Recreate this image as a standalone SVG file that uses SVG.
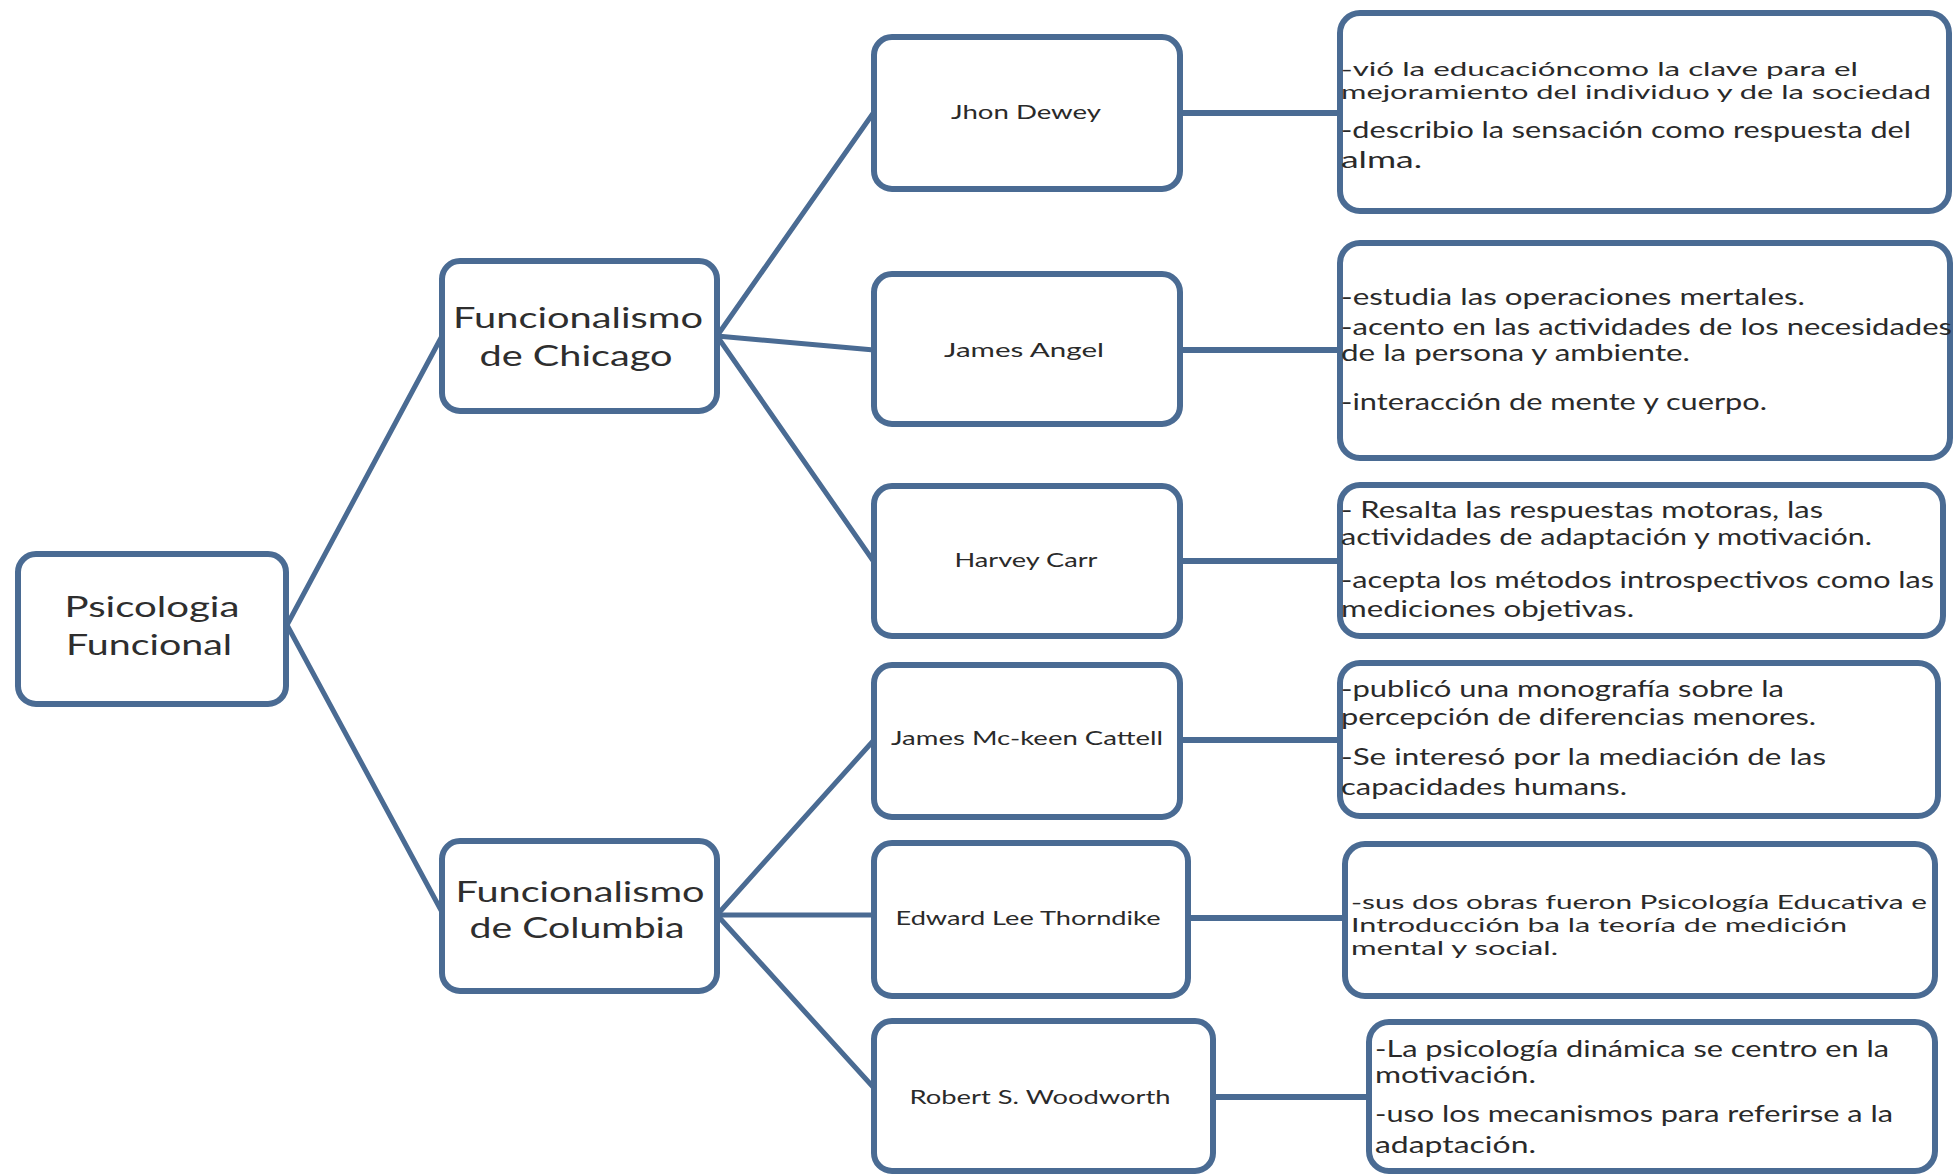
<svg xmlns="http://www.w3.org/2000/svg" width="1954" height="1175" viewBox="0 0 1954 1175">
<style>
.box{fill:#ffffff;stroke:#4a6b93;stroke-width:6}
.con{stroke:#4a6b93;stroke-width:5;fill:none;stroke-linecap:round}
.t1{font-family:Lato,"Open Sans","Liberation Sans",sans-serif;font-size:28px;fill:#2e2e2e;text-anchor:middle}
.t2{font-family:Lato,"Open Sans","Liberation Sans",sans-serif;font-size:20px;fill:#2a2a2a;text-anchor:middle}
.t3{font-family:Lato,"Open Sans","Liberation Sans",sans-serif;font-size:24px;fill:#2a2a2a}
.tight{font-size:19px}
</style>
<rect width="1954" height="1175" fill="#ffffff"/>
<g id="connectors">
<line class="con" x1="287" y1="625" x2="442" y2="336"/>
<line class="con" x1="287" y1="625" x2="442" y2="912"/>
<line class="con" x1="717" y1="336" x2="874" y2="112"/>
<line class="con" x1="717" y1="336" x2="874" y2="350"/>
<line class="con" x1="717" y1="336" x2="874" y2="562"/>
<line class="con" x1="717" y1="915" x2="874" y2="740"/>
<line class="con" x1="717" y1="915" x2="874" y2="915"/>
<line class="con" x1="717" y1="915" x2="874" y2="1088"/>
<line class="con" x1="1180" y1="113" x2="1340" y2="113" style="stroke-width:6"/>
<line class="con" x1="1180" y1="350" x2="1340" y2="350" style="stroke-width:6"/>
<line class="con" x1="1180" y1="561" x2="1340" y2="561" style="stroke-width:6"/>
<line class="con" x1="1180" y1="740" x2="1340" y2="740" style="stroke-width:6"/>
<line class="con" x1="1188" y1="918" x2="1345" y2="918" style="stroke-width:6"/>
<line class="con" x1="1213" y1="1097" x2="1369" y2="1097" style="stroke-width:6"/>
</g>
<g id="psicologia-funcional">
<rect class="box" x="18" y="554" width="268" height="150" rx="18"/>
<text class="t1" x="152" y="617" textLength="175" lengthAdjust="spacingAndGlyphs">Psicologia</text>
<text class="t1" x="149" y="655" textLength="166" lengthAdjust="spacingAndGlyphs">Funcional</text>
</g>
<g id="funcionalismo-chicago">
<rect class="box" x="442" y="261" width="275" height="150" rx="18"/>
<text class="t1" x="578" y="328" textLength="250" lengthAdjust="spacingAndGlyphs">Funcionalismo</text>
<text class="t1" x="576" y="366" textLength="193" lengthAdjust="spacingAndGlyphs">de Chicago</text>
</g>
<g id="funcionalismo-columbia">
<rect class="box" x="442" y="841" width="275" height="150" rx="18"/>
<text class="t1" x="580" y="902" textLength="249" lengthAdjust="spacingAndGlyphs">Funcionalismo</text>
<text class="t1" x="577" y="938" textLength="215" lengthAdjust="spacingAndGlyphs">de Columbia</text>
</g>
<g id="jhon-dewey">
<rect class="box" x="874" y="37" width="306" height="152" rx="18"/>
<text class="t2" x="1026" y="119" textLength="150" lengthAdjust="spacingAndGlyphs">Jhon Dewey</text>
</g>
<g id="james-angel">
<rect class="box" x="874" y="274" width="306" height="150" rx="18"/>
<text class="t2" x="1024" y="357" textLength="160" lengthAdjust="spacingAndGlyphs">James Angel</text>
</g>
<g id="harvey-carr">
<rect class="box" x="874" y="486" width="306" height="150" rx="18"/>
<text class="t2" x="1026" y="567" textLength="143" lengthAdjust="spacingAndGlyphs">Harvey Carr</text>
</g>
<g id="james-cattell">
<rect class="box" x="874" y="665" width="306" height="152" rx="18"/>
<text class="t2" x="1027" y="745" textLength="272" lengthAdjust="spacingAndGlyphs">James Mc-keen Cattell</text>
</g>
<g id="edward-thorndike">
<rect class="box" x="874" y="843" width="314" height="153" rx="18"/>
<text class="t2" x="1028" y="925" textLength="265" lengthAdjust="spacingAndGlyphs">Edward Lee Thorndike</text>
</g>
<g id="robert-woodworth">
<rect class="box" x="874" y="1021" width="339" height="150" rx="18"/>
<text class="t2" x="1040" y="1104" textLength="261" lengthAdjust="spacingAndGlyphs">Robert S. Woodworth</text>
</g>
<g id="desc-dewey">
<rect class="box" x="1340" y="13" width="609" height="198" rx="20"/>
<text class="t3 tight" x="1341" y="76" textLength="517" lengthAdjust="spacingAndGlyphs">-vió la educacióncomo la clave para el</text>
<text class="t3 tight" x="1341" y="99" textLength="590" lengthAdjust="spacingAndGlyphs">mejoramiento del individuo y de la sociedad</text>
<text class="t3" x="1341" y="138" textLength="570" lengthAdjust="spacingAndGlyphs">-describio la sensación como respuesta del</text>
<text class="t3" x="1341" y="168" textLength="81" lengthAdjust="spacingAndGlyphs">alma.</text>
</g>
<g id="desc-angel">
<rect class="box" x="1340" y="243" width="610" height="215" rx="20"/>
<text class="t3" x="1341" y="305" textLength="464" lengthAdjust="spacingAndGlyphs">-estudia las operaciones mertales.</text>
<text class="t3" x="1341" y="335" textLength="611" lengthAdjust="spacingAndGlyphs">-acento en las actividades de los necesidades</text>
<text class="t3" x="1341" y="361" textLength="349" lengthAdjust="spacingAndGlyphs">de la persona y ambiente.</text>
<text class="t3" x="1341" y="410" textLength="426" lengthAdjust="spacingAndGlyphs">-interacción de mente y cuerpo.</text>
</g>
<g id="desc-carr">
<rect class="box" x="1340" y="485" width="603" height="151" rx="20"/>
<text class="t3" x="1341" y="518" textLength="482" lengthAdjust="spacingAndGlyphs">- Resalta las respuestas motoras, las</text>
<text class="t3" x="1341" y="545" textLength="531" lengthAdjust="spacingAndGlyphs">actividades de adaptación y motivación.</text>
<text class="t3" x="1341" y="588" textLength="593" lengthAdjust="spacingAndGlyphs">-acepta los métodos introspectivos como las</text>
<text class="t3" x="1341" y="617" textLength="293" lengthAdjust="spacingAndGlyphs">mediciones objetivas.</text>
</g>
<g id="desc-cattell">
<rect class="box" x="1340" y="663" width="598" height="153" rx="20"/>
<text class="t3" x="1341" y="697" textLength="443" lengthAdjust="spacingAndGlyphs">-publicó una monografía sobre la</text>
<text class="t3" x="1341" y="725" textLength="475" lengthAdjust="spacingAndGlyphs">percepción de diferencias menores.</text>
<text class="t3" x="1341" y="765" textLength="485" lengthAdjust="spacingAndGlyphs">-Se interesó por la mediación de las</text>
<text class="t3" x="1341" y="795" textLength="286" lengthAdjust="spacingAndGlyphs">capacidades humans.</text>
</g>
<g id="desc-thorndike">
<rect class="box" x="1345" y="844" width="590" height="152" rx="20"/>
<text class="t3 tight" x="1351" y="909" textLength="576" lengthAdjust="spacingAndGlyphs">-sus dos obras fueron Psicología Educativa e</text>
<text class="t3 tight" x="1351" y="932" textLength="496" lengthAdjust="spacingAndGlyphs">Introducción ba la teoría de medición</text>
<text class="t3 tight" x="1351" y="955" textLength="207" lengthAdjust="spacingAndGlyphs">mental y social.</text>
</g>
<g id="desc-woodworth">
<rect class="box" x="1369" y="1022" width="566" height="149" rx="20"/>
<text class="t3" x="1375" y="1057" textLength="514" lengthAdjust="spacingAndGlyphs">-La psicología dinámica se centro en la</text>
<text class="t3" x="1375" y="1083" textLength="161" lengthAdjust="spacingAndGlyphs">motivación.</text>
<text class="t3" x="1375" y="1122" textLength="518" lengthAdjust="spacingAndGlyphs">-uso los mecanismos para referirse a la</text>
<text class="t3" x="1375" y="1153" textLength="161" lengthAdjust="spacingAndGlyphs">adaptación.</text>
</g>
</svg>
